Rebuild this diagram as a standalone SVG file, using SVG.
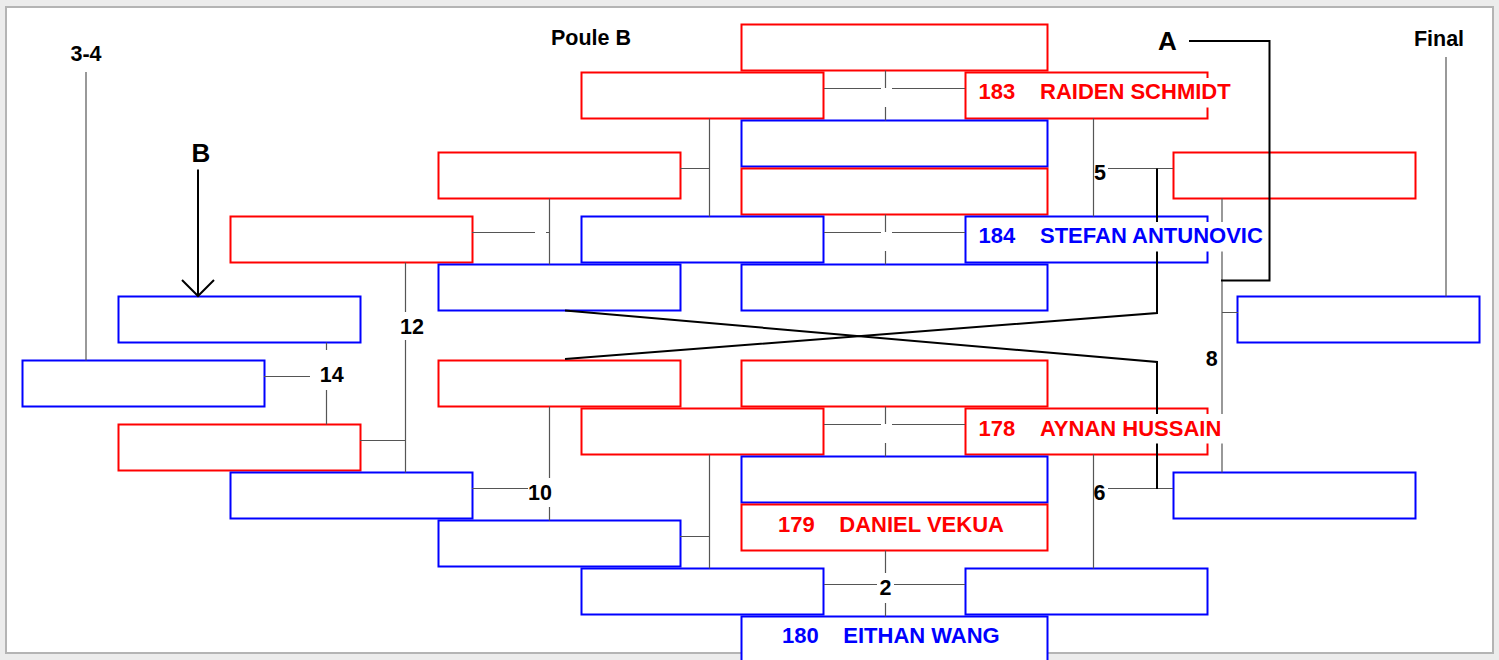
<svg xmlns="http://www.w3.org/2000/svg" width="1499" height="660" viewBox="0 0 1499 660">
<style>
.r{fill:#fff;stroke:#f00;stroke-width:2}
.b{fill:#fff;stroke:#00f;stroke-width:2}
.c{fill:none;stroke:#555;stroke-width:1.2}
.k{fill:none;stroke:#000;stroke-width:2}
.t{font-family:"Liberation Sans",Arial,Helvetica,sans-serif;font-weight:bold;font-size:21.5px;fill:#000}
.big{font-size:26px}
.m{text-anchor:middle}
.n{font-family:"Liberation Sans",Arial,Helvetica,sans-serif;font-weight:bold;font-size:22px}
.nr{fill:#f00}
.nb{fill:#00f}
.bg{fill:#fff}
</style>
<rect width="1499" height="660" fill="#ececec"/>
<rect x="6" y="7" width="1487" height="646" fill="#fff" stroke="#b4b4b4" stroke-width="2"/>

<g id="nodes">
<g id="n-c5-r1"><rect class="r" x="741.5" y="24.5" width="306" height="46"/></g>
<g id="n-c4-r2"><rect class="r" x="581.5" y="72.5" width="242" height="46"/></g>
<g id="n-183"><rect class="r" x="965.5" y="72.5" width="242" height="46"/></g>
<g id="n-c5-r3"><rect class="b" x="741.5" y="120.5" width="306" height="46"/></g>
<g id="n-c3-r4"><rect class="r" x="438.5" y="152.5" width="242" height="46"/></g>
<g id="n-c7-r4"><rect class="r" x="1173.5" y="152.5" width="242" height="46"/></g>
<g id="n-c5-r5"><rect class="r" x="741.5" y="168.5" width="306" height="46"/></g>
<g id="n-c2-r6"><rect class="r" x="230.5" y="216.5" width="242" height="46"/></g>
<g id="n-c4-r6"><rect class="b" x="581.5" y="216.5" width="242" height="46"/></g>
<g id="n-184"><rect class="b" x="965.5" y="216.5" width="242" height="46"/></g>
<g id="n-c3-r7"><rect class="b" x="438.5" y="264.5" width="242" height="46"/></g>
<g id="n-c5-r7"><rect class="b" x="741.5" y="264.5" width="306" height="46"/></g>
<g id="n-c1-r8"><rect class="b" x="118.5" y="296.5" width="242" height="46"/></g>
<g id="n-final"><rect class="b" x="1237.5" y="296.5" width="242" height="46"/></g>
<g id="n-c0-r9"><rect class="b" x="22.5" y="360.5" width="242" height="46"/></g>
<g id="n-c3-r9"><rect class="r" x="438.5" y="360.5" width="242" height="46"/></g>
<g id="n-c5-r9"><rect class="r" x="741.5" y="360.5" width="306" height="46"/></g>
<g id="n-c4-r10"><rect class="r" x="581.5" y="408.5" width="242" height="46"/></g>
<g id="n-178"><rect class="r" x="965.5" y="408.5" width="242" height="46"/></g>
<g id="n-c1-r11"><rect class="r" x="118.5" y="424.5" width="242" height="46"/></g>
<g id="n-c5-r12"><rect class="b" x="741.5" y="456.5" width="306" height="46"/></g>
<g id="n-c2-r13"><rect class="b" x="230.5" y="472.5" width="242" height="46"/></g>
<g id="n-c7-r13"><rect class="b" x="1173.5" y="472.5" width="242" height="46"/></g>
<g id="n-179"><rect class="r" x="741.5" y="504.5" width="306" height="46"/></g>
<g id="n-c3-r14"><rect class="b" x="438.5" y="520.5" width="242" height="46"/></g>
<g id="n-c4-r15"><rect class="b" x="581.5" y="568.5" width="242" height="46"/></g>
<g id="n-c6-r15"><rect class="b" x="965.5" y="568.5" width="242" height="46"/></g>
<g id="n-180"><rect class="b" x="741.5" y="616.5" width="306" height="46"/></g>
</g>

<g id="connectors">
<!-- center pairs -->
<path class="c" d="M824 88.5H881M892 88.5H965M885.5 70.5V88M885.5 107V120.5"/>
<path class="c" d="M824 232.5H881M892 232.5H965M885.5 214.5V232M885.5 251V264.5"/>
<path class="c" d="M824 424.5H881M892 424.5H965M885.5 406.5V424M885.5 443V456.5"/>
<path class="c" d="M824 584.5H877M894 584.5H965M885.5 550.5V573M885.5 603V616.5"/>
<!-- left of center -->
<path class="c" d="M709.5 118.5V216.5M680 168.5H709.5"/>
<path class="c" d="M709.5 454.5V568.5M680 536.5H709.5"/>
<path class="c" d="M549.5 198.5V264.5M472 232.5H535M546 232.5H549.5"/>
<path class="c" d="M549.5 406.5V478M549.5 507V520.5M472 488.5H528"/>
<path class="c" d="M405.5 262.5V312M405.5 340V472.5M360 440.5H405.5"/>
<path class="c" d="M326.5 342.5V350M326.5 390V424.5M264 376.5H310"/>
<path class="c" d="M86 72V360.5"/>
<!-- right of center -->
<path class="c" d="M1093.5 118.5V216.5M1108 168.5H1173"/>
<path class="c" d="M1093.5 454.5V568.5M1108 488.5H1173"/>
<path class="c" d="M1222 198.5V472.5M1222 312.5H1238"/>
<path class="c" d="M1446 57V296.5"/>
<!-- thick routing lines -->
<path class="k" d="M1189 41H1269.5V280.5H1221"/>
<path class="k" d="M565 310.5L1157 362V489"/>
<path class="k" d="M565 359L1157 313V168.5"/>
<path class="k" d="M198 169.5V296M182 280L198 296L214 280"/>
</g>

<g id="name-backgrounds">
<rect class="bg" x="976" y="78" width="260" height="29.5"/>
<rect class="bg" x="976" y="222" width="291.5" height="29.5"/>
<rect class="bg" x="976" y="414" width="248" height="29.5"/>
</g>

<g id="labels">
<text class="t m" x="591" y="45">Poule B</text>
<text class="t m" x="1439" y="45.5">Final</text>
<text class="t m" x="86" y="61">3-4</text>
<text class="t big m" x="1167.5" y="49.5">A</text>
<text class="t big m" x="201" y="161.5">B</text>
<text class="t m" x="885.5" y="595">2</text>
<text class="t m" x="1100" y="179.5">5</text>
<text class="t m" x="1099.5" y="499.5">6</text>
<text class="t m" x="1211.7" y="365.5">8</text>
<text class="t m" x="540" y="499.5">10</text>
<text class="t m" x="412" y="333.5">12</text>
<text class="t m" x="331.7" y="381.5">14</text>
</g>

<g id="names">
<text class="n nr" y="99"><tspan x="978.5">183</tspan><tspan x="1040">RAIDEN SCHMIDT</tspan></text>
<text class="n nb" y="243.3"><tspan x="978.5">184</tspan><tspan x="1040">STEFAN ANTUNOVIC</tspan></text>
<text class="n nr" y="435.5"><tspan x="978.5">178</tspan><tspan x="1040">AYNAN HUSSAIN</tspan></text>
<text class="n nr" y="531.5"><tspan x="778">179</tspan><tspan x="839.3">DANIEL VEKUA</tspan></text>
<text class="n nb" y="643"><tspan x="782">180</tspan><tspan x="843.3">EITHAN WANG</tspan></text>
</g>
</svg>
